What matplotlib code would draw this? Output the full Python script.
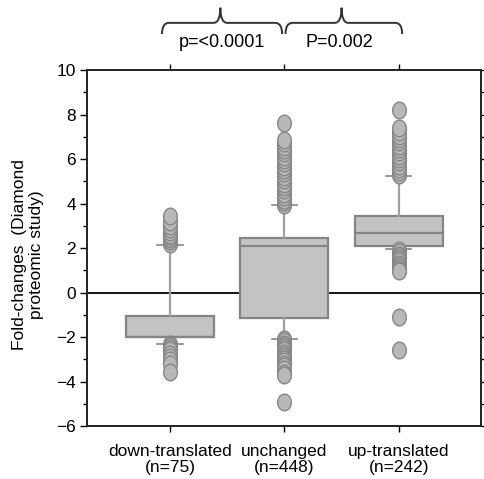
import numpy as np
import matplotlib
matplotlib.use("Agg")
import matplotlib.pyplot as plt
from matplotlib.path import Path
from matplotlib.patches import PathPatch
from matplotlib.ticker import MultipleLocator

plt.rcParams['font.family'] = ['Liberation Sans', 'DejaVu Sans']

# data
categories = ['down-translated\n(n=75)', 'unchanged\n(n=448)', 'up-translated\n(n=242)']
q1 = [-2.0, -1.15, 2.1]
medians = [-1.98, 2.1, 2.66]
q3 = [-1.06, 2.45, 3.44]
whisk_lo = [-2.31, -2.08, 1.94]
whisk_hi = [2.12, 3.93, 5.25]
outliers = [
    [2.2, 2.3, 2.4, 2.5, 2.6, 2.7, 2.85, 3.0, 3.15, 3.45,
     -2.3, -2.4, -2.5, -2.6, -2.75, -2.9, -3.05, -3.2, -3.55],
    [3.95, 4.05, 4.15, 4.3, 4.45, 4.6, 4.75, 4.9, 5.05, 5.2, 5.35, 5.5,
     5.65, 5.8, 5.95, 6.1, 6.25, 6.4, 6.55, 6.7, 6.85, 7.6,
     -2.1, -2.2, -2.3, -2.4, -2.5, -2.6, -2.7, -2.8, -2.9, -3.0,
     -3.1, -3.2, -3.3, -3.45, -3.6, -3.7, -4.9],
    [5.3, 5.4, 5.55, 5.7, 5.85, 6.0, 6.15, 6.3, 6.45, 6.6, 6.75,
     6.9, 7.05, 7.2, 7.4, 8.2,
     1.9, 1.8, 1.7, 1.6, 1.5, 1.4, 1.3, 1.2, 1.1, 1.0, 0.95,
     -1.1, -2.6],
]
p_labels = ['p=<0.0001', 'P=0.002']

fig = plt.figure(figsize=(4.84, 4.79), dpi=100)
ax = fig.add_axes([0.180, 0.1106, 0.814, 0.7432])

stats = []
for i in range(len(categories)):
    stats.append(dict(q1=q1[i], med=medians[i], q3=q3[i],
                      whislo=whisk_lo[i], whishi=whisk_hi[i],
                      fliers=outliers[i], label=categories[i]))

# slightly tall ellipse marker, as in the reference
t = np.linspace(0, 2 * np.pi, 41)
oval = Path(np.column_stack([0.82 * np.cos(t), np.sin(t)]), closed=True)

edge = '#858585'
ax.axhline(0, color='black', lw=1.3, zorder=1)
ax.bxp(stats, positions=[1, 2, 3], widths=0.77, patch_artist=True,
       capwidths=0.22,
       boxprops=dict(facecolor='#c3c3c3', edgecolor=edge, lw=1.6),
       medianprops=dict(color=edge, lw=1.6),
       whiskerprops=dict(color='#a0a0a0', lw=1.6),
       capprops=dict(color=edge, lw=1.2),
       flierprops=dict(marker=oval, markersize=12, markerfacecolor='#b8b8b8',
                       markeredgecolor='#878787', markeredgewidth=1.0),
       zorder=2)

ax.set_xlim(0.275, 3.72)
ax.set_ylim(-6, 10)
ax.yaxis.set_major_locator(MultipleLocator(2))
ax.yaxis.set_minor_locator(MultipleLocator(1))
ax.tick_params(axis='y', which='major', direction='out', length=5, width=1,
               labelsize=12.5, pad=3, right=True)
ax.tick_params(axis='y', which='minor', direction='out', length=3, width=1,
               right=True)
ax.tick_params(axis='x', direction='out', length=4, width=1, labelsize=12.5,
               pad=9, top=True)
for lbl in ax.get_xticklabels():
    lbl.set_linespacing(1.1)
for s in ax.spines.values():
    s.set_linewidth(1.4)
    s.set_color('#222222')

fig.text(0.058, 0.468, 'Fold-changes  (Diamond\nproteomic study)', rotation=90,
         ha='center', va='center', fontsize=12.5, multialignment='center',
         linespacing=1.1)


def brace(x0, x1, xm, y_end, y_line, y_tip, dx):
    verts = [(x0, y_end), (x0, y_line), (x0 + dx, y_line),
             (xm - dx, y_line), (xm, y_line), (xm, y_tip),
             (xm, y_line), (xm + dx, y_line),
             (x1 - dx, y_line), (x1, y_line), (x1, y_end)]
    codes = [Path.MOVETO, Path.CURVE3, Path.CURVE3,
             Path.LINETO, Path.CURVE3, Path.CURVE3,
             Path.CURVE3, Path.CURVE3,
             Path.LINETO, Path.CURVE3, Path.CURVE3]
    ax.add_patch(PathPatch(Path(verts, codes), fill=False, lw=1.4,
                           edgecolor='#333333', clip_on=False))


brace(0.93, 1.98, 1.44, 11.62, 12.12, 12.8, 0.06)
brace(2.01, 3.03, 2.5, 11.62, 12.12, 12.8, 0.06)
ax.text(1.45, 11.25, p_labels[0], ha='center', va='center', fontsize=13,
        clip_on=False)
ax.text(2.48, 11.25, p_labels[1], ha='center', va='center', fontsize=13,
        clip_on=False)

fig.savefig('out.png', dpi=100)
